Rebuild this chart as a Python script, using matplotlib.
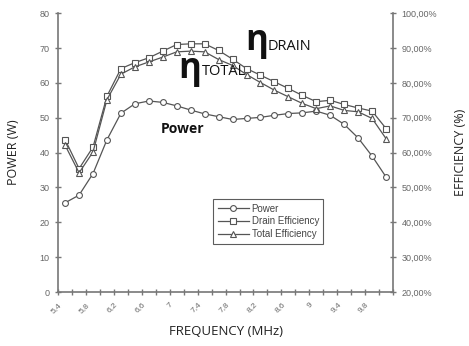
import matplotlib
matplotlib.use('Agg')
import matplotlib.pyplot as plt

plt.rcParams['font.family'] = ['Liberation Sans', 'DejaVu Sans']

# data
freq = ['5,4', '5,6', '5,8', '6', '6,2', '6,4', '6,6', '6,8', '7', '7,2', '7,4', '7,6',
        '7,8', '8', '8,2', '8,4', '8,6', '8,8', '9', '9,2', '9,4', '9,6', '9,8', '10']
power = [25.6, 27.8, 34.0, 43.7, 51.3, 54.0, 54.8, 54.4, 53.4, 52.2, 51.1, 50.3,
         49.5, 49.8, 50.1, 50.7, 51.2, 51.4, 51.9, 50.7, 48.1, 44.2, 39.0, 33.0]
drain_eff = [63.7, 55.4, 61.6, 76.2, 84.1, 85.8, 87.2, 89.1, 91.0, 91.2, 91.2, 89.3,
             86.8, 84.1, 82.2, 80.3, 78.4, 76.4, 74.6, 75.0, 73.8, 72.8, 71.9, 66.9]
total_eff = [62.1, 54.2, 60.2, 75.2, 82.5, 84.6, 86.0, 87.4, 88.9, 89.1, 88.9, 86.7,
             85.0, 82.4, 80.1, 77.9, 76.0, 74.1, 72.6, 73.4, 72.1, 71.7, 69.8, 64.0]

power_ticks = [0, 10, 20, 30, 40, 50, 60, 70, 80]
eff_ticks = [20, 30, 40, 50, 60, 70, 80, 90, 100]

line_col = '#555555'
axis_col = '#777777'
tick_col = '#666666'

fig = plt.figure(figsize=(4.69, 3.46), dpi=100)
ax = fig.add_axes([0.124, 0.156, 0.714, 0.806])
ax2 = ax.twinx()

x = list(range(len(freq)))
mk = dict(markerfacecolor='white', markeredgecolor=line_col, markersize=4.2,
          markeredgewidth=0.8, color=line_col, linewidth=0.9)

l1, = ax.plot(x, power, marker='o', label='Power', **mk)
l2, = ax2.plot(x, drain_eff, marker='s', label='Drain Efficiency', **mk)
l3, = ax2.plot(x, total_eff, marker='^', label='Total Efficiency', **mk)

ax.set_xlim(-0.5, len(freq) - 0.5)
ax.set_ylim(0, 80)
ax2.set_ylim(20, 100)

ax.set_yticks(power_ticks)
ax.set_yticklabels([str(v) for v in power_ticks])
ax2.set_yticks(eff_ticks)
ax2.set_yticklabels([f'{v},00%' for v in eff_ticks])

# category boundaries as ticks, every other one labelled
bounds = [i - 0.5 for i in range(len(freq) + 1)]
labels = [freq[j] if (j % 2 == 0 and j < len(freq)) else '' for j in range(len(bounds))]
ax.set_xticks(bounds)
ax.set_xticklabels(labels, rotation=45, ha='right', va='top', rotation_mode='anchor')

for a in (ax, ax2):
    for s in a.spines.values():
        s.set_color(axis_col)
        s.set_linewidth(1.2)
    a.spines['top'].set_visible(False)
    a.tick_params(direction='inout', length=5, width=1, color=axis_col,
                  labelcolor=tick_col, labelsize=6.5)
ax.tick_params(axis='x', pad=4, labelsize=6)
ax.spines['right'].set_visible(False)
ax2.spines['left'].set_visible(False)
ax2.spines['bottom'].set_visible(False)

ax.set_ylabel('POWER (W)', family=['Open Sans'], fontsize=9, color='#222222', labelpad=14)
ax2.set_ylabel('EFFICIENCY (%)', family=['Open Sans'], fontsize=9, color='#222222',
               rotation=90, labelpad=12)
ax.set_xlabel('FREQUENCY (MHz)', family=['Open Sans'], fontsize=9.5, color='#222222',
              labelpad=8)

# annotations
ax2.text(8.9, 81.5, 'η', family=['Open Sans'], fontsize=25, fontweight='bold',
         color='#111111', ha='center', va='baseline')
ax2.text(9.8, 82.4, 'TOTAL', family=['Open Sans'], fontsize=10.5, color='#111111',
         ha='left', va='baseline')
ax2.text(13.7, 89.3, 'η', family=['Open Sans'], fontsize=25, fontweight='bold',
         color='#111111', ha='center', va='baseline')
ax2.text(14.5, 89.5, 'DRAIN', family=['Open Sans'], fontsize=10.5, color='#111111',
         ha='left', va='baseline')
ax.text(8.4, 46.8, 'Power', family=['Open Sans'], fontsize=10, fontweight='bold',
        color='#111111', ha='center', va='center')

leg = ax2.legend(handles=[l1, l2, l3], loc='upper left', bbox_to_anchor=(0.463, 0.333),
                 fontsize=7, frameon=True, fancybox=False, borderpad=0.45,
                 labelspacing=0.3, handlelength=3.2, handletextpad=0.3,
                 borderaxespad=0)
leg.get_frame().set_edgecolor('#333333')
leg.get_frame().set_linewidth(0.8)
for t in leg.get_texts():
    t.set_color('#444444')

plt.savefig('out.png', dpi=100)
